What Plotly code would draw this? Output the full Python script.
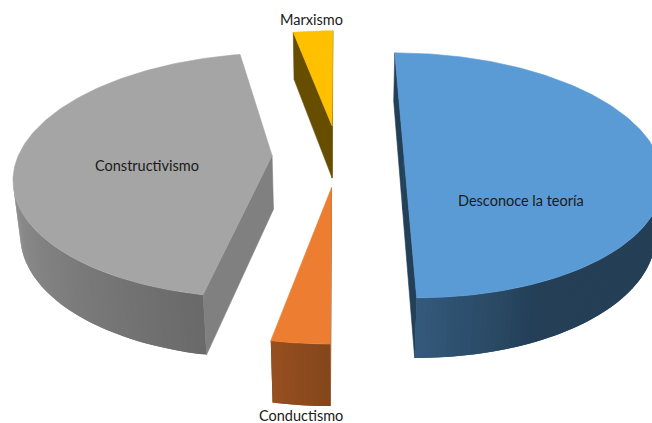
import numpy as np
import plotly.graph_objects as go

labels = ["Desconoce la teoría", "Conductismo", "Constructivismo", "Marxismo"]
values = [50, 3, 44, 3]

top_colors = ["#5b9bd5", "#ed7d31", "#a5a5a5", "#ffc000"]
wall_colors = ["#234059", "#8a4b1e", "#808080", "#664d00"]
# rim shade: (angle, rgb) stops, clockwise degrees from 12 o'clock
rim_stops = [
    [(90, (36, 63, 86)), (155, (36, 63, 86)), (180, (52, 90, 124))],
    [(180, (131, 71, 27)), (191, (152, 80, 33))],
    [(191, (106, 106, 106)), (270, (152, 152, 152))],
    [(349, (102, 77, 0)), (360, (102, 77, 0))],
]
label_pos = [(521, 200), (301, 415), (147, 165), (311, 19)]

# camera for the tilted pie, in unit-radius world coords
elev = np.radians(28.5)
dist = 5.43
focal = 1357
x_stretch = 1.015
center_x, center_y = 338, 155.5
height = 0.25
explode = 0.26


def project(x, y, z):
    depth = dist + y * np.cos(elev) - z * np.sin(elev)
    up = y * np.sin(elev) + z * np.cos(elev)
    return center_x + x_stretch * focal * x / depth, center_y - focal * up / depth


def area(px, py):
    return 0.5 * np.sum(px * np.roll(py, -1) - np.roll(px, -1) * py)


def poly(fig, px, py, color, name=None, edge=0.6):
    fig.add_trace(go.Scatter(
        x=list(px) + [px[0]], y=list(py) + [py[0]], mode="lines", fill="toself",
        fillcolor=color, line=dict(color=color, width=edge),
        hoverinfo="text" if name else "skip", text=name, showlegend=False,
    ))


def rim_color(stops, t):
    ang = [s[0] for s in stops]
    rgb = [np.interp(t, ang, [s[1][i] for s in stops]) for i in range(3)]
    return "rgb(%d,%d,%d)" % tuple(rgb)


fig = go.Figure()
edges = np.cumsum([0] + values) / sum(values) * 360

for i, label in enumerate(labels):
    a0, a1 = edges[i], edges[i + 1]
    mid = np.radians((a0 + a1) / 2)
    ox, oy = explode * np.sin(mid), explode * np.cos(mid)
    n = max(3, int(a1 - a0) + 1)
    t = np.linspace(a0, a1, n)
    rx = ox + np.sin(np.radians(t))
    ry = oy + np.cos(np.radians(t))

    # radial walls
    for ex, ey, rev in [(rx[0], ry[0], False), (rx[-1], ry[-1], True)]:
        wx = np.array([ox, ex, ex, ox])
        wy = np.array([oy, ey, ey, oy])
        wz = np.array([0, 0, -height, -height])
        px, py = project(wx, wy, wz)
        if (area(px, py) > 0) != rev:
            continue
        poly(fig, px, py, wall_colors[i])

    # outer rim: each strip runs over the next one, so no seams show
    for j in range(n - 1):
        k = min(j + 2, n - 1)
        wx = np.r_[rx[j:k + 1], rx[j:k + 1][::-1]]
        wy = np.r_[ry[j:k + 1], ry[j:k + 1][::-1]]
        wz = np.r_[np.zeros(k + 1 - j), np.full(k + 1 - j, -height)]
        px, py = project(wx, wy, wz)
        if area(px, py) > 0:
            continue
        poly(fig, px, py, rim_color(rim_stops[i], (t[j] + t[j + 1]) / 2), edge=0)

    # top face
    px, py = project(np.r_[ox, rx], np.r_[oy, ry], np.zeros(n + 1))
    poly(fig, px, py, top_colors[i], "%s: %d%%" % (label, values[i]))

for label, (lx, ly) in zip(labels, label_pos):
    fig.add_annotation(x=lx, y=ly, text=label, showarrow=False, borderpad=0,
                       font=dict(family="Lato", size=14.5, color="#1a1a1a"))

fig.update_xaxes(range=[0, 652], visible=False)
fig.update_yaxes(range=[423, 0], visible=False)
fig.update_layout(
    width=652, height=423, margin=dict(l=0, r=0, t=0, b=0),
    paper_bgcolor="white", plot_bgcolor="white", showlegend=False,
)
fig.write_html("out.html", config={"displayModeBar": False},
               post_script="document.body.style.margin='0';document.body.style.overflow='hidden';")
